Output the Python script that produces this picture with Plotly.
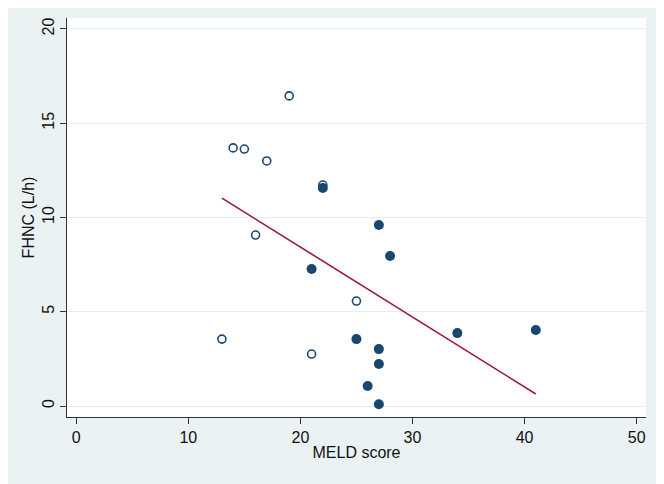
import plotly.graph_objects as go

# Data
open_x = [13, 14, 15, 16, 17, 19, 21, 22, 25]
open_y = [3.55, 13.69, 13.63, 9.07, 13.0, 16.45, 2.76, 11.72, 5.57]
filled_x = [22, 21, 27, 28, 25, 27, 27, 26, 27, 34, 41]
filled_y = [11.56, 7.27, 9.6, 7.96, 3.55, 3.02, 2.23, 1.06, 0.1, 3.87, 4.03]
fit_x = [13, 41]
fit_y = [11.03, 0.64]

x_ticks = [0, 10, 20, 30, 40, 50]
y_ticks = [0, 5, 10, 15, 20]

navy = "#1a476f"
red = "#a0173f"

fig = go.Figure()
fig.add_trace(go.Scatter(
    x=open_x, y=open_y, mode="markers",
    marker=dict(symbol="circle-open", size=8, color=navy, line=dict(width=1.6, color=navy)),
    showlegend=False))
fig.add_trace(go.Scatter(
    x=filled_x, y=filled_y, mode="markers",
    marker=dict(symbol="circle", size=10, color=navy, line=dict(width=0)),
    showlegend=False))
fig.add_trace(go.Scatter(
    x=fit_x, y=fit_y, mode="lines",
    line=dict(color=red, width=1.6),
    showlegend=False))

font = dict(family="Liberation Sans, Arial, sans-serif", size=16, color="#111111")

fig.update_layout(
    width=656, height=476,
    margin=dict(l=59, r=18, t=10, b=67),
    paper_bgcolor="#eaf2f3",
    plot_bgcolor="#ffffff",
    font=font,
    xaxis=dict(
        range=[-0.82, 50.83], tickvals=x_ticks, showgrid=False, zeroline=False,
        showline=True, linecolor="#333333", linewidth=1,
        ticks="outside", ticklen=6, tickcolor="#333333",
        title=dict(text="MELD score", standoff=1, font=dict(size=16)),
        tickfont=dict(size=16)),
    yaxis=dict(
        range=[-0.58, 20.58], tickvals=y_ticks, showgrid=True, gridcolor="#e6eef0",
        gridwidth=1, zeroline=False,
        showline=True, linecolor="#333333", linewidth=1,
        ticks="outside", ticklen=6, tickcolor="#333333", tickangle=-90,
        title=dict(text="FHNC (L/h)", standoff=0, font=dict(size=16)),
        tickfont=dict(size=16)),
)

fig.write_html("out.html")
